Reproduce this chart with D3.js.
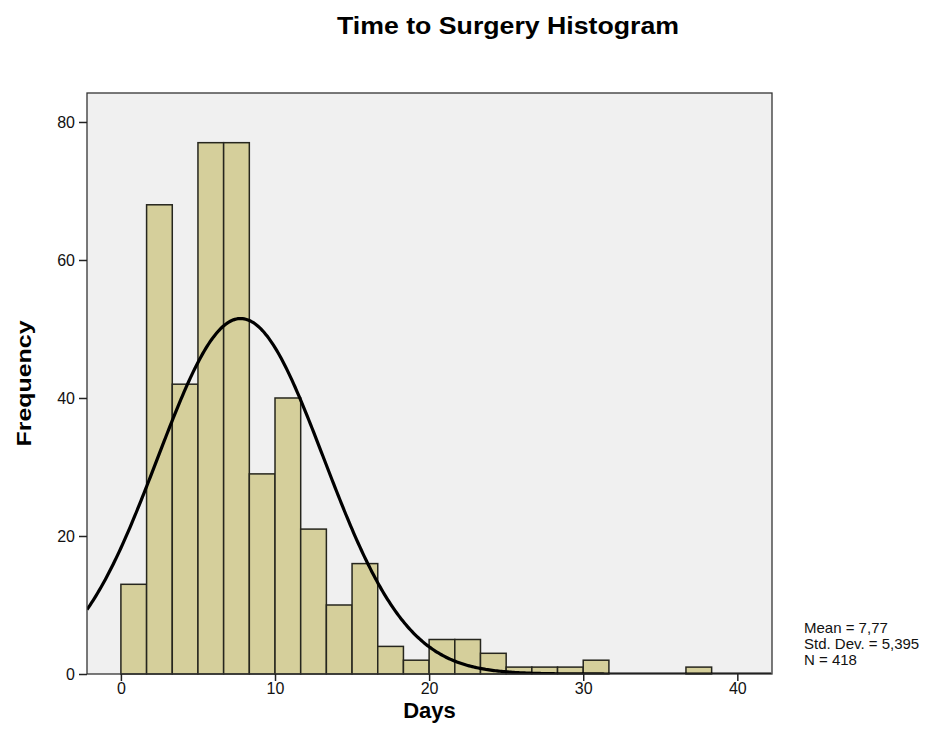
<!DOCTYPE html>
<html>
<head>
<meta charset="utf-8">
<script src="https://cdn.jsdelivr.net/npm/d3@7"></script>
<style>
  body { margin: 0; background: #fff; }
  text { font-family: Arial, "Liberation Sans", sans-serif; }
</style>
</head>
<body>
<svg width="949" height="753"></svg>
<script>
// histogram of days to surgery, bin width 5/3 days starting at 0
var binWidth = 5 / 3;
var counts = [13, 68, 42, 77, 77, 29, 40, 21, 10, 16, 4, 2, 5, 5, 3, 1, 1, 1, 2, 0, 0, 0, 1];
var xTicks = [0, 10, 20, 30, 40];
var yTicks = [0, 20, 40, 60, 80];
var mean = 7.77, sd = 5.395, n = 418;
var statLines = ["Mean = 7,77", "Std. Dev. = 5,395", "N = 418"];

var bins = counts.map((c, i) => ({x0: i * binWidth, x1: (i + 1) * binWidth, count: c}));

var svg = d3.select("svg"),
    margin = {top: 93, right: 177, bottom: 79, left: 87},
    width = +svg.attr("width") - margin.left - margin.right,
    height = +svg.attr("height") - margin.top - margin.bottom,
    g = svg.append("g").attr("transform", "translate(" + margin.left + "," + margin.top + ")");

var x = d3.scaleLinear().domain([-2.2, 42.25]).range([0, width]);
var y = d3.scaleLinear().domain([0, 84.2]).range([height, 0]);

svg.append("defs").append("clipPath").attr("id", "clip")
  .append("rect").attr("width", width).attr("height", height);

g.append("rect")
    .attr("width", width)
    .attr("height", height)
    .attr("fill", "#f0f0f0");

g.selectAll(".bar")
  .data(bins.filter(d => d.count > 0))
  .enter().append("rect")
    .attr("class", "bar")
    .attr("x", d => x(d.x0))
    .attr("y", d => y(d.count))
    .attr("width", d => x(d.x1) - x(d.x0))
    .attr("height", d => y(0) - y(d.count))
    .attr("fill", "#d5cf9b")
    .attr("stroke", "#26261e")
    .attr("stroke-width", 1.5);

// fitted normal curve
var pdf = v => n * binWidth * Math.exp(-0.5 * Math.pow((v - mean) / sd, 2)) / (sd * Math.sqrt(2 * Math.PI));
var curveX = d3.range(-2.2, 42.3, 0.1);
var line = d3.line()
    .x(d => x(d))
    .y(d => y(pdf(d)));

g.append("path")
    .datum(curveX)
    .attr("clip-path", "url(#clip)")
    .attr("fill", "none")
    .attr("stroke", "#000")
    .attr("stroke-width", 3.2)
    .attr("d", line);

// frame
g.append("rect")
    .attr("width", width)
    .attr("height", height)
    .attr("fill", "none")
    .attr("stroke", "#333")
    .attr("stroke-width", 1.3);

var xAxis = g.append("g")
    .attr("transform", "translate(0," + height + ")")
    .call(d3.axisBottom(x).tickValues(xTicks).tickSize(7).tickPadding(2).tickFormat(d3.format("d")));
xAxis.select(".domain").remove();

var yAxis = g.append("g")
    .call(d3.axisLeft(y).tickValues(yTicks).tickSize(8).tickPadding(4).tickFormat(d3.format("d")));
yAxis.select(".domain").remove();

g.selectAll(".tick line").attr("stroke", "#222").attr("stroke-width", 1.5);
g.selectAll(".tick text")
    .attr("font-family", "Arial, 'Liberation Sans', sans-serif")
    .attr("font-size", 16)
    .attr("fill", "#111");

svg.append("text")
    .attr("x", 508)
    .attr("y", 34)
    .attr("text-anchor", "middle")
    .attr("font-weight", "bold")
    .attr("font-size", 23)
    .attr("textLength", 342)
    .attr("lengthAdjust", "spacingAndGlyphs")
    .text("Time to Surgery Histogram");

svg.append("text")
    .attr("x", margin.left + width / 2)
    .attr("y", 718)
    .attr("text-anchor", "middle")
    .attr("font-weight", "bold")
    .attr("font-size", 22)
    .text("Days");

svg.append("text")
    .attr("transform", "translate(31," + (margin.top + height / 2) + ") rotate(-90)")
    .attr("text-anchor", "middle")
    .attr("font-weight", "bold")
    .attr("font-size", 21)
    .attr("textLength", 126)
    .attr("lengthAdjust", "spacingAndGlyphs")
    .text("Frequency");

svg.append("g").selectAll("text")
  .data(statLines)
  .enter().append("text")
    .attr("x", 804)
    .attr("y", (d, i) => 633 + i * 16)
    .attr("font-size", 15)
    .attr("fill", "#111")
    .text(d => d);
</script>
</body>
</html>
